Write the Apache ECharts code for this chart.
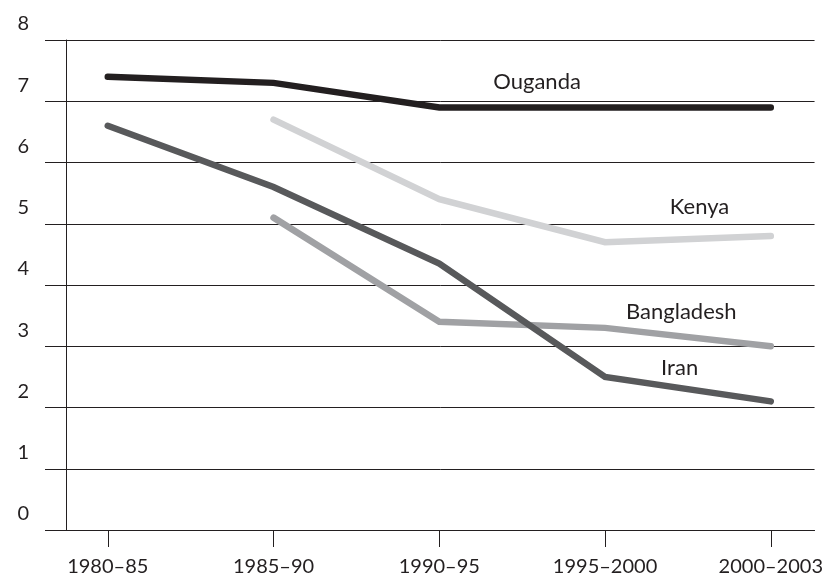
<!DOCTYPE html>
<html>
<head>
<meta charset="utf-8">
<script src="https://cdn.jsdelivr.net/npm/echarts@6/dist/echarts.min.js"></script>
<style>
  html, body { margin: 0; padding: 0; background: #fff; }
  #main { width: 826px; height: 578px; }
</style>
</head>
<body>
<div id="main"></div>
<script>
// periods on the x axis
const periods = ['1980–85', '1985–90', '1990–95', '1995–2000', '2000–2003'];
// fertility values per period (null = no data)
const ouganda = [7.4, 7.3, 6.9, 6.9, 6.9];
const kenya = [null, 6.7, 5.4, 4.7, 4.8];
const bangladesh = [null, 5.1, 3.4, 3.3, 3.0];
const iran = [6.6, 5.6, 4.35, 2.5, 2.1];
const yTicks = [0, 1, 2, 3, 4, 5, 6, 7, 8];

const ink = '#231f20';
const font = 'Lato';

function toPoints(vals) {
  return vals.map((v, i) => (v == null ? null : [i, v])).filter(p => p);
}

function line(name, vals, color, labelAt) {
  return {
    name: name,
    type: 'line',
    data: toPoints(vals),
    symbol: 'none',
    lineStyle: { color: color, width: 6.5, cap: 'round', join: 'miter' },
    silent: true,
    z: name === 'Ouganda' ? 5 : 3,
    markPoint: {
      symbol: 'circle',
      symbolSize: 0,
      silent: true,
      data: [{ coord: labelAt, value: name }],
      label: {
        show: true,
        formatter: name,
        color: ink,
        fontFamily: font,
        fontSize: 22,
        position: 'inside'
      }
    }
  };
}

const chart = echarts.init(document.getElementById('main'));
chart.setOption({
  animation: false,
  grid: { left: 66, right: 7, top: 40, bottom: 48 },
  xAxis: {
    type: 'value',
    min: -0.252,
    max: 4.264,
    axisLine: { show: true, onZero: false, lineStyle: { color: ink, width: 1 } },
    axisTick: { show: true, customValues: [0, 1, 2, 3, 4], length: 17, lineStyle: { color: ink, width: 1 } },
    axisLabel: {
      customValues: [0, 1, 2, 3, 4],
      formatter: v => periods[Math.round(v)],
      color: ink, fontFamily: font, fontSize: 20, margin: 27
    },
    splitLine: { show: false }
  },
  yAxis: {
    type: 'value',
    min: 0,
    max: 8,
    interval: 1,
    axisLine: { show: true, onZero: false, lineStyle: { color: ink, width: 1 } },
    axisTick: { show: true, inside: false, length: 21, lineStyle: { color: ink, width: 1 } },
    axisLabel: {
      formatter: v => (yTicks.indexOf(v) >= 0 ? String(v) : ''),
      color: ink, fontFamily: font, fontSize: 20,
      margin: 37,
      verticalAlign: 'bottom',
      lineHeight: 20,
      padding: [0, 0, 6, 0]
    },
    splitLine: { show: true, lineStyle: { color: ink, width: 1 } }
  },
  series: [
    line('Kenya', kenya, '#d1d2d4', [3.57, 5.27]),
    line('Bangladesh', bangladesh, '#a0a1a4', [3.46, 3.56]),
    line('Iran', iran, '#58595b', [3.45, 2.64]),
    line('Ouganda', ouganda, ink, [2.59, 7.31])
  ]
});
</script>
</body>
</html>
